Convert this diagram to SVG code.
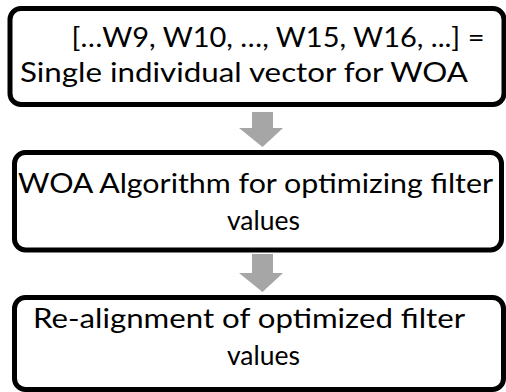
<svg xmlns="http://www.w3.org/2000/svg" width="506" height="392" viewBox="0 0 506 392">
  <style>
    .box { fill: #ffffff; stroke: #000000; stroke-width: 5; }
    .lbl { font-family: Lato, "Open Sans", "Liberation Sans", sans-serif; font-size: 27px; fill: #000000; text-anchor: middle; }
    .arrow { fill: #a6a6a6; stroke: none; }
  </style>
  <rect width="506" height="392" fill="#ffffff"/>

  <g id="connectors">
    <polygon class="arrow" points="252,112 273,112 273,128 283,128 262.5,147 239,128 252,128"/>
    <polygon class="arrow" points="252,254 273,254 273,273 283,273 262.5,292 239,273 252,273"/>
  </g>

  <g id="node-vector">
    <rect class="box" x="10" y="8.5" width="494" height="96" rx="11"/>
    <text class="lbl" x="278" y="47" textLength="413" lengthAdjust="spacingAndGlyphs">[…W9, W10, …, W15, W16, ...] =</text>
    <text class="lbl" x="244" y="82" textLength="448" lengthAdjust="spacingAndGlyphs">Single individual vector for WOA</text>
  </g>

  <g id="node-woa">
    <rect class="box" x="14.5" y="152.5" width="487" height="97.5" rx="11"/>
    <text class="lbl" x="255.5" y="193" textLength="475" lengthAdjust="spacingAndGlyphs">WOA Algorithm for optimizing filter</text>
    <text class="lbl" x="263.5" y="230" textLength="73" lengthAdjust="spacingAndGlyphs">values</text>
  </g>

  <g id="node-realign">
    <rect class="box" x="14.5" y="297.5" width="489" height="92" rx="11"/>
    <text class="lbl" x="249" y="328" textLength="432" lengthAdjust="spacingAndGlyphs">Re-alignment of optimized filter</text>
    <text class="lbl" x="263.5" y="365" textLength="73" lengthAdjust="spacingAndGlyphs">values</text>
  </g>
</svg>
